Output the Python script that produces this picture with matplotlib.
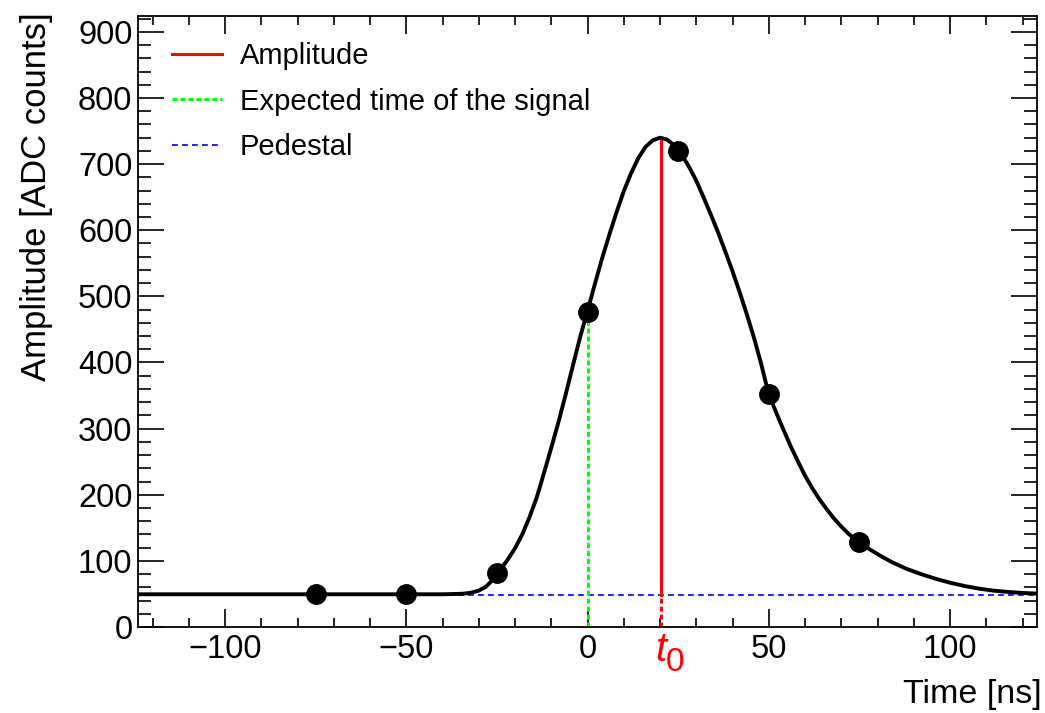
import matplotlib
matplotlib.use("Agg")
import matplotlib.pyplot as plt
from matplotlib.ticker import MultipleLocator
from matplotlib.lines import Line2D

plt.rcParams["font.family"] = ["Liberation Sans", "DejaVu Sans"]

# sampled ADC values
sample_t = [-75, -50, -25, 0, 25, 50, 75]
sample_amp = [50, 50, 82, 477, 720, 352, 128]

# fitted pulse shape
fit_t = [-124, -60, -40, -36, -34, -32, -30, -28, -26, -24, -22, -20, -18, -16,
         -14, -12, -10, -8, -6, -4, -2, 0, 2, 4, 6, 8, 10, 12, 14, 16, 18, 20,
         22, 24, 26, 28, 30, 32, 34, 36, 38, 40, 42, 44, 46, 48, 50, 52, 54, 56,
         58, 60, 62, 64, 66, 68, 70, 72, 75, 78, 81, 84, 88, 92, 96, 100, 104,
         108, 112, 116, 120, 124]
fit_amp = [49.5, 49.5, 49.5, 50, 50.5, 52, 55, 61, 72, 87, 102, 119, 140, 166,
           196, 233, 271, 310, 352, 396, 439, 478, 518, 557, 593, 627, 659, 686, 709, 726, 736, 740,
           737, 728, 714, 696, 675, 650, 624, 597, 568, 538, 506, 472, 436, 396, 352, 325, 299, 274,
           251, 229, 210, 193, 178, 164, 152, 141, 128, 117, 107, 98, 88, 80, 73, 67, 62,
           58, 55, 53, 51.5, 50.5]

pedestal = 48
t0 = 20.2
amp_max = 740
expected_t = 0
expected_amp = 477

x_range = (-124, 124)
y_range = (0, 924)

fig = plt.figure(figsize=(10.45, 7.13), dpi=100)
ax = fig.add_axes([138 / 1045, 86 / 713, 899 / 1045, 611 / 713])

ax.axhline(pedestal, color="#0000ff", lw=1.2, ls=(0, (3.5, 2.5)), zorder=1)
ax.plot([expected_t, expected_t], [0, expected_amp], color="#00ff00", lw=2.2,
        ls=(0, (1.6, 1.0)), zorder=2)
ax.plot([t0, t0], [0, pedestal], color="#ff0000", lw=2.2, ls=(0, (1.6, 1.0)), zorder=2)
ax.plot([t0, t0], [pedestal, amp_max], color="#ff0000", lw=2.2, zorder=2)
ax.plot(fit_t, fit_amp, color="black", lw=2.8, zorder=3, solid_joinstyle="round")
ax.plot(sample_t, sample_amp, "o", color="black", ms=14, zorder=4)

ax.set_xlim(*x_range)
ax.set_ylim(*y_range)
ax.xaxis.set_major_locator(MultipleLocator(50))
ax.xaxis.set_minor_locator(MultipleLocator(10))
ax.yaxis.set_major_locator(MultipleLocator(100))
ax.yaxis.set_minor_locator(MultipleLocator(20))
ax.tick_params(which="both", direction="in", top=True, right=True, labelsize=23.5,
               width=1.2, color="black")
ax.tick_params(axis="x", which="major", length=13, pad=5)
ax.tick_params(axis="x", which="minor", length=6.5)
ax.tick_params(axis="y", which="major", length=18.5, pad=4)
ax.tick_params(axis="y", which="minor", length=9.5)
for s in ax.spines.values():
    s.set_linewidth(1.3)

# t0 marker under the axis
ax.annotate("t", xy=(t0, 0), xycoords=("data", "axes fraction"), xytext=(0, -4),
            textcoords="offset pixels", ha="center", va="top", style="italic",
            fontsize=29, color="#ff0000")
ax.annotate("0", xy=(t0, 0), xycoords=("data", "axes fraction"), xytext=(5, -20),
            textcoords="offset pixels", ha="left", va="top", fontsize=24,
            color="#ff0000")

fig.text(1042 / 1045, 10 / 713, "Time [ns]", fontsize=24.5, ha="right", va="baseline")
fig.text(37 / 1045, 1 - 12 / 713, "Amplitude [ADC counts]", fontsize=25,
         rotation=90, ha="center", va="top")

handles = [
    Line2D([], [], color="#ff0000", lw=2.2),
    Line2D([], [], color="#00ff00", lw=2.2, ls=(0, (1.6, 1.0))),
    Line2D([], [], color="#0000ff", lw=1.2, ls=(0, (3.5, 2.5))),
]
labels = ["Amplitude", "Expected time of the signal", "Pedestal"]
ax.legend(handles, labels, loc="upper left", bbox_to_anchor=(172 / 1045, 1 - 42 / 713),
          bbox_transform=fig.transFigure, frameon=False, fontsize=21,
          handlelength=1.72, handletextpad=0.6, labelspacing=0.6, borderpad=0,
          borderaxespad=0)

fig.savefig("out.png", dpi=100)
